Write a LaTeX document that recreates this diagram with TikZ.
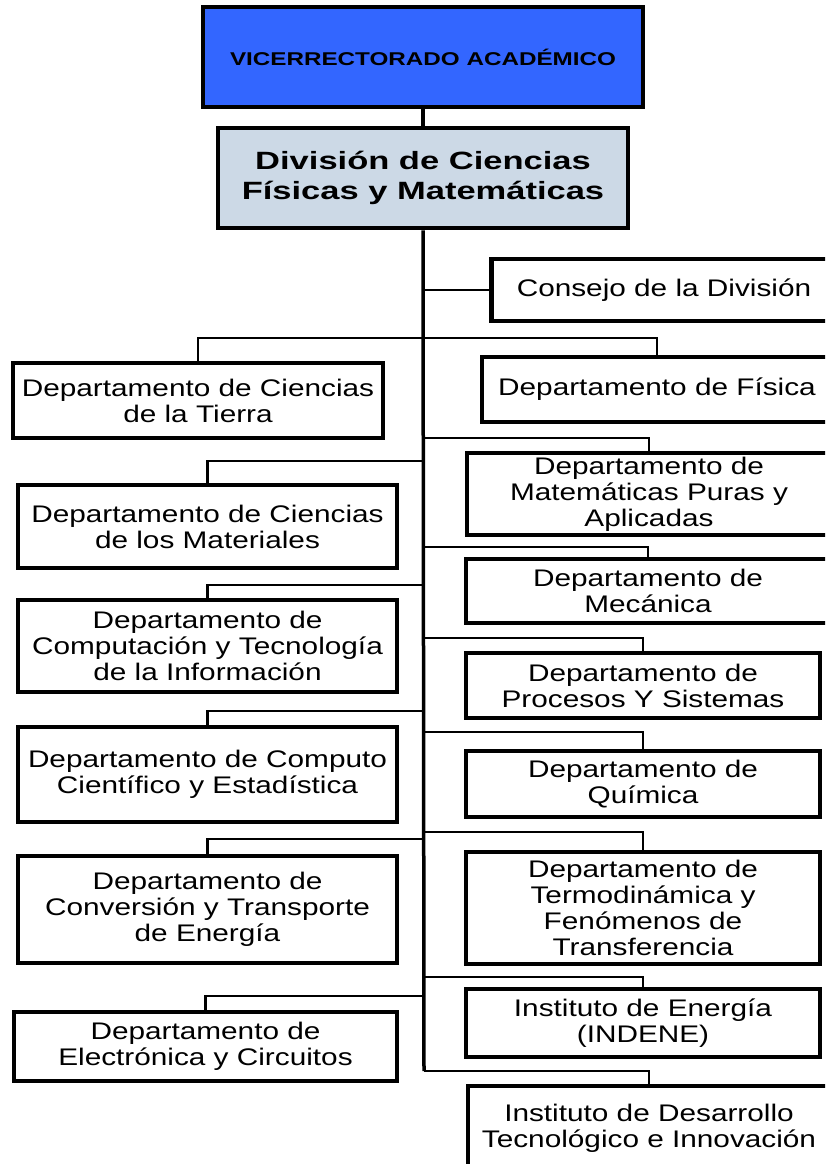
\documentclass[tikz,border=0pt]{standalone}
\usepackage{fontspec}
\setmainfont{Liberation Sans}[FakeStretch=1.24]
\newfontfamily\vicefont{Liberation Sans}[FakeStretch=1.31]
\newfontfamily\divfont{Liberation Sans}[FakeStretch=1.38]

\definecolor{viceblue}{RGB}{51,102,255}
\definecolor{divgray}{RGB}{204,217,230}

\tikzset{
  caja/.style={draw, line width=4.5pt, fill=white, inner sep=0pt, align=center,
    font=\fontsize{24}{26}\selectfont},
  linea/.style={line width=2.8pt},
  tronco/.style={line width=3.5pt}
}

\begin{document}
\begin{tikzpicture}[x=1pt,y=-1pt]
\clip (0,0) rectangle (825,1164);

% Vicerrectorado y division
\node[caja, fill=viceblue, minimum width=440pt, minimum height=100pt,
  font=\vicefont\bfseries\fontsize{18.5}{22}\selectfont] (vice) at (423,57) {VICERRECTORADO ACADÉMICO};
\node[caja, fill=divgray, minimum width=410pt, minimum height=100pt,
  font=\divfont\bfseries\fontsize{25}{30}\selectfont] (div) at (423,178) {División de Ciencias\\Físicas y Matemáticas};
\draw[line width=4pt] (vice.south) -- (div.north);

% Columna derecha
\node[caja, minimum width=345pt, minimum height=62pt] (consejo) at (664,290) {Consejo de la División};
\node[caja, minimum width=350pt, minimum height=65pt] (fisica) at (657,389.5) {Departamento de Física};
\node[caja, minimum width=364pt, minimum height=82pt] (matematicas) at (649,494) {Departamento de\\Matemáticas Puras y\\Aplicadas};
\node[caja, minimum width=364pt, minimum height=64pt] (mecanica) at (648,591) {Departamento de\\Mecánica};
\node[caja, minimum width=354pt, minimum height=65pt] (procesos) at (643,685.5) {Departamento de\\Procesos Y Sistemas};
\node[caja, minimum width=354pt, minimum height=66pt] (quimica) at (643,784) {Departamento de\\Química};
\node[caja, minimum width=354pt, minimum height=112pt] (termo) at (643,908) {Departamento de\\Termodinámica y\\Fenómenos de\\Transferencia};
\node[caja, minimum width=354pt, minimum height=68pt] (energia) at (643,1023) {Instituto de Energía\\(INDENE)};
\node[caja, minimum width=362pt, minimum height=84pt] (desarrollo) at (649,1128) {Instituto de Desarrollo\\Tecnológico e Innovación};

% Columna izquierda
\node[caja, minimum width=370pt, minimum height=75pt] (tierra) at (198,400.5) {Departamento de Ciencias\\de la Tierra};
\node[caja, minimum width=379pt, minimum height=83pt] (materiales) at (207.5,526.5) {Departamento de Ciencias\\de los Materiales};
\node[caja, minimum width=379pt, minimum height=92pt] (computacion) at (207.5,646) {Departamento de\\Computación y Tecnología\\de la Información};
\node[caja, minimum width=379pt, minimum height=95pt] (computo) at (207.5,774.5) {Departamento de Computo\\Científico y Estadística};
\node[caja, minimum width=379pt, minimum height=107pt] (conversion) at (207.5,909.5) {Departamento de\\Conversión y Transporte\\de Energía};
\node[caja, minimum width=383pt, minimum height=69pt] (electronica) at (205.5,1046.5) {Departamento de\\Electrónica y Circuitos};

% Tronco y ramas
\coordinate (fin) at (424,1071);
\draw[tronco] (div.south) -- (fin);
\coordinate (jconsejo) at (424,290);
\draw[linea] (jconsejo) -- (consejo.west);
\foreach \y/\c in {338/tierra, 338/fisica, 438/matematicas, 461/materiales,
    547/mecanica, 585/computacion, 638/procesos, 711/computo, 732/quimica,
    832/termo, 839/conversion, 977/energia, 996/electronica}{
  \coordinate (j\c) at (424,\y);
  \draw[linea] (j\c) -| (\c.north);
}
\draw[linea] (fin) -| (desarrollo.north);

\end{tikzpicture}
\end{document}
